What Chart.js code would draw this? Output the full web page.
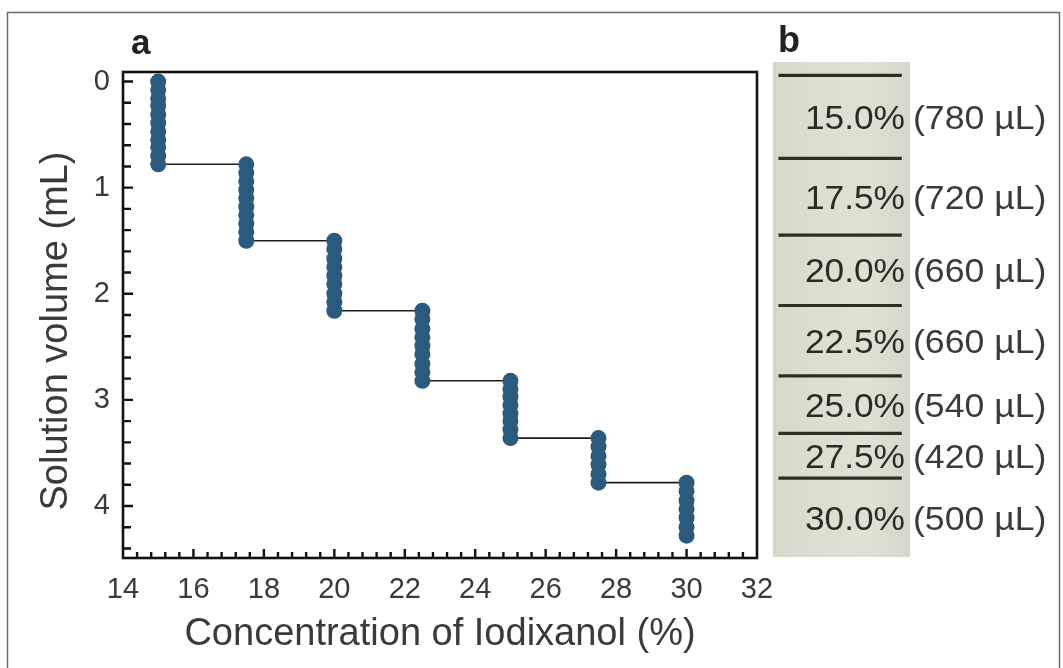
<!DOCTYPE html>
<html>
<head>
<meta charset="utf-8">
<script src="https://cdn.jsdelivr.net/npm/chart.js@4.4.0/dist/chart.umd.min.js"></script>
<style>
  html, body { margin: 0; padding: 0; background: #fff; }
  #wrap { position: relative; width: 1063px; height: 668px; overflow: hidden; }
  #gradientChart { position: absolute; left: 0; top: 0; }
  #tubeChart { position: absolute; left: 773px; top: 0; }
</style>
</head>
<body>
<div id="wrap">
  <canvas id="gradientChart" width="1063" height="668"></canvas>
  <canvas id="tubeChart" width="290" height="668"></canvas>
</div>
<script>
// Iodixanol step gradient, layers from top to bottom of the tube
const concentrations = [15.0, 17.5, 20.0, 22.5, 25.0, 27.5, 30.0];   // %
const layerVolumes = [780, 720, 660, 660, 540, 420, 500];            // µL
const layerTops = [0, 0.78, 1.50, 2.16, 2.82, 3.36, 3.78];          // mL

// solution volume (mL) sampled within each layer
const volumes150 = [0, 0.08, 0.16, 0.23, 0.31, 0.39, 0.47, 0.55, 0.62, 0.70, 0.78];
const volumes175 = [0.78, 0.86, 0.94, 1.02, 1.10, 1.18, 1.26, 1.34, 1.42, 1.50];
const volumes200 = [1.50, 1.58, 1.67, 1.75, 1.83, 1.91, 2.00, 2.08, 2.16];
const volumes225 = [2.16, 2.24, 2.33, 2.41, 2.49, 2.57, 2.66, 2.74, 2.82];
const volumes250 = [2.82, 2.90, 2.97, 3.05, 3.13, 3.20, 3.28, 3.36];
const volumes275 = [3.36, 3.44, 3.53, 3.61, 3.70, 3.78];
const volumes300 = [3.78, 3.86, 3.95, 4.03, 4.11, 4.20, 4.28];

const xTickLabels = [14, 16, 18, 20, 22, 24, 26, 28, 30, 32];
const yTickLabels = [0, 1, 2, 3, 4];

const volumeGroups = [volumes150, volumes175, volumes200, volumes225, volumes250, volumes275, volumes300];
const profile = [];
volumeGroups.forEach((group, i) => {
    group.forEach(v => profile.push({ x: concentrations[i], y: v }));
});

const FONT = "'Liberation Sans', Arial, Helvetica, sans-serif";
const TEXT = '#3a3a3a';

// frame, inward ticks, y title and panel letter
const framePlugin = {
    id: 'frame',
    afterDraw(chart) {
        const { ctx, chartArea: a, scales: { x, y } } = chart;
        ctx.save();
        // figure border
        ctx.strokeStyle = '#6a6a6a';
        ctx.lineWidth = 1.5;
        ctx.strokeRect(7.5, 12.5, 1052, 680);

        ctx.strokeStyle = '#111';
        ctx.lineWidth = 2.6;
        ctx.strokeRect(a.left, a.top, a.right - a.left, a.bottom - a.top);

        ctx.lineWidth = 2.4;
        ctx.beginPath();
        for (let i = 0; i <= 22; i++) {
            const py = y.getPixelForValue(i * 0.2);
            ctx.moveTo(a.left, py);
            ctx.lineTo(a.left + (i % 5 === 0 ? 10 : 8), py);
        }
        for (let i = 1; i < 45; i++) {
            const px = x.getPixelForValue(x.min + i * 0.4);
            ctx.moveTo(px, a.bottom);
            ctx.lineTo(px, a.bottom - (i % 5 === 0 ? 9 : 6));
        }
        ctx.stroke();

        // y axis title, sits a little below the axis centre
        ctx.save();
        ctx.translate(57, (a.top + a.bottom) / 2 + 16);
        ctx.rotate(-Math.PI / 2);
        ctx.fillStyle = TEXT;
        ctx.font = '38px ' + FONT;
        ctx.textAlign = 'center';
        ctx.textBaseline = 'middle';
        ctx.fillText('Solution volume (mL)', 0, 0);
        ctx.restore();

        ctx.fillStyle = '#222';
        ctx.font = 'bold 35px ' + FONT;
        ctx.textAlign = 'left';
        ctx.textBaseline = 'alphabetic';
        ctx.fillText('a', 131, 54);
        ctx.restore();
    }
};

new Chart(document.getElementById('gradientChart'), {
    type: 'scatter',
    data: {
        datasets: [{
            data: profile,
            showLine: true,
            borderColor: '#1c1c1c',
            borderWidth: 1.6,
            pointRadius: 8,
            pointHoverRadius: 8,
            pointBackgroundColor: '#2a5a7d',
            pointBorderColor: '#2a5a7d',
            pointBorderWidth: 0
        }]
    },
    options: {
        responsive: false,
        animation: false,
        events: [],
        layout: { padding: { left: 0, top: 72, right: 306, bottom: 0 } },
        plugins: { legend: { display: false }, tooltip: { enabled: false } },
        scales: {
            x: {
                type: 'linear',
                min: xTickLabels[0],
                max: xTickLabels[xTickLabels.length - 1],
                afterBuildTicks: s => { s.ticks = xTickLabels.map(v => ({ value: v })); },
                ticks: { color: TEXT, font: { family: FONT, size: 29 }, padding: 15, maxRotation: 0, autoSkip: false },
                grid: { display: false, drawTicks: false },
                border: { display: false },
                title: {
                    display: true, text: 'Concentration of Iodixanol (%)', color: TEXT,
                    font: { family: FONT, size: 38 }, padding: { top: 0, bottom: 11 }
                },
                afterFit: s => { s.height = 110; }
            },
            y: {
                type: 'linear',
                reverse: true,
                min: -0.09,
                max: 4.49,
                afterBuildTicks: s => { s.ticks = yTickLabels.map(v => ({ value: v })); },
                ticks: { color: TEXT, font: { family: FONT, size: 29 }, padding: 13, autoSkip: false },
                grid: { display: false, drawTicks: false },
                border: { display: false },
                afterFit: s => { s.width = 123; }
            }
        }
    },
    plugins: [framePlugin]
});

// tube with layer boundaries and layer labels
const tubePlugin = {
    id: 'tube',
    beforeDatasetsDraw(chart) {
        const { ctx, chartArea: a } = chart;
        ctx.save();
        const g = ctx.createLinearGradient(a.left, 0, a.right, 0);
        g.addColorStop(0, '#d6d9c9');
        g.addColorStop(0.3, '#dcdfd0');
        g.addColorStop(0.7, '#dfe1d3');
        g.addColorStop(1, '#d5d8c8');
        ctx.fillStyle = g;
        ctx.fillRect(a.left, a.top, a.right - a.left, a.bottom - a.top);
        ctx.restore();
    },
    afterDraw(chart) {
        const { ctx, chartArea: a, scales: { y } } = chart;
        ctx.save();
        ctx.font = '33px ' + FONT;
        ctx.textBaseline = 'middle';
        concentrations.forEach((c, i) => {
            const top = layerTops[i];
            const bottom = i < layerTops.length - 1 ? layerTops[i + 1] : y.max;
            const py = y.getPixelForValue((top + bottom) / 2) + 3;
            ctx.save();
            ctx.translate(a.right - 5, py);
            ctx.scale(1.07, 1);
            ctx.fillStyle = '#2b2b24';
            ctx.textAlign = 'right';
            ctx.fillText(c.toFixed(1) + '%', 0, 0);
            ctx.restore();
            ctx.save();
            ctx.translate(a.right + 3, py);
            ctx.scale(1.08, 1);
            ctx.fillStyle = TEXT;
            ctx.textAlign = 'left';
            ctx.fillText('(' + layerVolumes[i] + ' µL)', 0, 0);
            ctx.restore();
        });
        ctx.fillStyle = '#222';
        ctx.font = 'bold 36px ' + FONT;
        ctx.textAlign = 'left';
        ctx.textBaseline = 'alphabetic';
        ctx.fillText('b', 5, 52);
        ctx.restore();
    }
};

new Chart(document.getElementById('tubeChart'), {
    type: 'scatter',
    data: {
        datasets: layerTops.map(v => ({
            data: [{ x: 0.04, y: v }, { x: 0.94, y: v }],
            showLine: true,
            borderColor: '#2d2d24',
            borderWidth: 3.2,
            pointRadius: 0
        }))
    },
    options: {
        responsive: false,
        animation: false,
        events: [],
        layout: { padding: { left: 0, top: 62, right: 153, bottom: 111 } },
        plugins: { legend: { display: false }, tooltip: { enabled: false } },
        scales: {
            x: { display: false, min: 0, max: 1 },
            y: { display: false, reverse: true, min: -0.125, max: 4.52 }
        }
    },
    plugins: [tubePlugin]
});
</script>
</body>
</html>
